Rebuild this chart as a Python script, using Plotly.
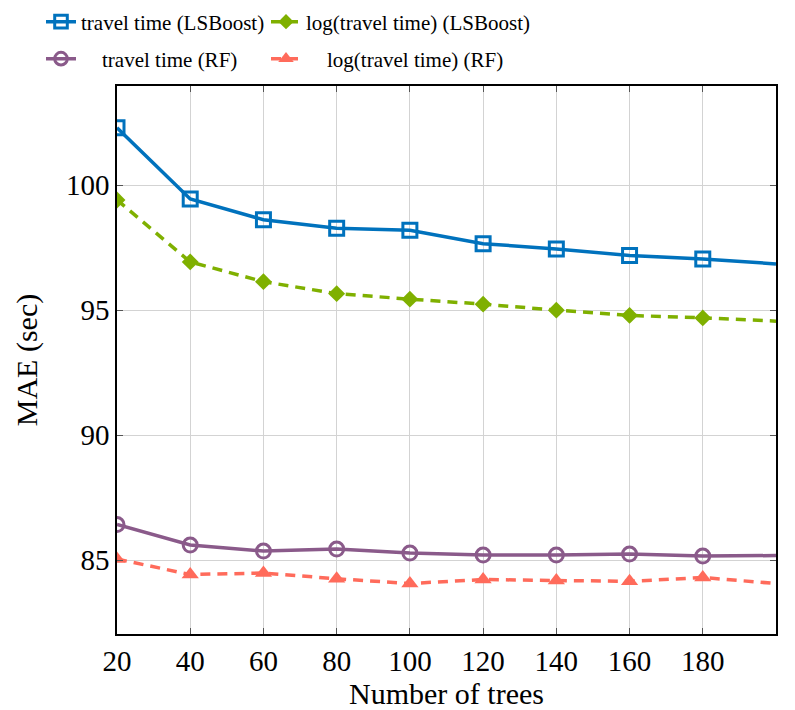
import plotly.graph_objects as go

trees = [20, 40, 60, 80, 100, 120, 140, 160, 180, 200]
tt_lsboost = [102.30, 99.45, 98.62, 98.28, 98.20, 97.66, 97.45, 97.19, 97.05, 96.85]
logtt_lsboost = [99.41, 96.93, 96.14, 95.66, 95.44, 95.24, 95.00, 94.79, 94.69, 94.56]
tt_rf = [86.42, 85.60, 85.36, 85.44, 85.28, 85.20, 85.20, 85.24, 85.16, 85.18]
logtt_rf = [85.04, 84.42, 84.48, 84.25, 84.06, 84.22, 84.18, 84.15, 84.30, 84.06]

x_ticks = [20, 40, 60, 80, 100, 120, 140, 160, 180]
y_ticks = [85, 90, 95, 100]

FONT = "Liberation Serif, Times New Roman, serif"
BLUE = "#0072BD"
GREEN = "#7FB000"
PURPLE = "#8A5A8A"
RED = "#FF6B5B"

nb = "\u00a0"

def msizes(n, s):
    return [s] * (n - 1) + [0]

n = len(trees)
fig = go.Figure()
fig.add_trace(go.Scatter(
    x=trees, y=tt_lsboost, mode="lines+markers", name="travel time (LSBoost)",
    line=dict(color=BLUE, width=3.5),
    marker=dict(symbol="square-open", size=msizes(n, 14), color=BLUE, opacity=1,
                line=dict(width=3, color=BLUE)),
    legend="legend"))
fig.add_trace(go.Scatter(
    x=trees, y=logtt_lsboost, mode="lines+markers", name="log(travel time) (LSBoost)",
    line=dict(color=GREEN, width=3.5, dash="10px,7px"),
    marker=dict(symbol="diamond", size=msizes(n, 13), color=GREEN, opacity=1, line=dict(width=0)),
    legend="legend2"))
fig.add_trace(go.Scatter(
    x=trees, y=tt_rf, mode="lines+markers", name=nb * 4 + "travel time (RF)",
    line=dict(color=PURPLE, width=3.5),
    marker=dict(symbol="circle-open", size=msizes(n, 14), color=PURPLE, opacity=1,
                line=dict(width=3, color=PURPLE)),
    legend="legend3"))
fig.add_trace(go.Scatter(
    x=trees, y=logtt_rf, mode="lines+markers", name=nb * 4 + "log(travel time) (RF)",
    line=dict(color=RED, width=3.5, dash="10px,7px"),
    marker=dict(symbol="triangle-up", size=msizes(n, 15), color=RED, opacity=1, line=dict(width=0)),
    legend="legend4"))

leg_common = dict(
    orientation="h", xref="container", yref="container", xanchor="left", yanchor="middle",
    font=dict(family=FONT, size=21, color="black"), bgcolor="rgba(0,0,0,0)",
    itemsizing="trace",
)
col1 = 41 / 795
col2 = 266 / 795
row1 = 1 - 22 / 710
row2 = 1 - 59 / 710

fig.update_layout(
    width=795, height=710,
    margin=dict(l=117, r=19, t=86, b=76, autoexpand=False),
    paper_bgcolor="white", plot_bgcolor="white",
    font=dict(family=FONT, color="black"),
    showlegend=True,
    legend=dict(x=col1, y=row1, **leg_common),
    legend2=dict(x=col2, y=row1, **leg_common),
    legend3=dict(x=col1, y=row2, **leg_common),
    legend4=dict(x=col2, y=row2, **leg_common),
    xaxis=dict(
        range=[20, 200], tickvals=x_ticks, ticktext=[str(v) for v in x_ticks],
        showgrid=True, gridcolor="#d3d3d3", gridwidth=1,
        showline=True, linecolor="black", linewidth=1.5, mirror="ticks",
        ticks="inside", ticklen=6, tickcolor="#555555", tickwidth=1,
        tickfont=dict(family=FONT, size=29, color="black"),
        title=dict(text="Number of trees", font=dict(family=FONT, size=30, color="black"), standoff=6),
        zeroline=False, automargin=False,
    ),
    yaxis=dict(
        range=[82.04, 103.97], tickvals=y_ticks, ticktext=[str(v) for v in y_ticks],
        showgrid=True, gridcolor="#d3d3d3", gridwidth=1,
        showline=True, linecolor="black", linewidth=1.5, mirror="ticks",
        ticks="inside", ticklen=6, tickcolor="#555555", tickwidth=1,
        tickfont=dict(family=FONT, size=29, color="black"),
        title=dict(text="MAE (sec)", font=dict(family=FONT, size=30, color="black"), standoff=19),
        zeroline=False, automargin=False,
    ),
)

fig.write_html("out.html", config={"displayModeBar": False},
               post_script="document.body.style.margin='0';")
